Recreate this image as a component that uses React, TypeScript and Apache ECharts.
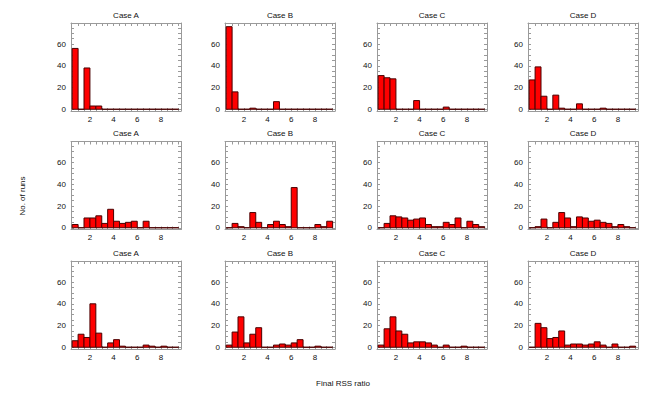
import React, { useEffect, useRef } from "react";
import * as echarts from "echarts";

// ---- data ----
const BIN_STARTS = [0.5, 1.0, 1.5, 2.0, 2.5, 3.0, 3.5, 4.0, 4.5, 5.0, 5.5, 6.0, 6.5, 7.0, 7.5, 8.0, 8.5, 9.0];
const BIN_WIDTH = 0.5;
const CASES = ["Case A", "Case B", "Case C", "Case D"];
const X_TICKS = [2, 4, 6, 8];
const Y_TICKS = [0, 20, 40, 60];
const X_MINOR = [1, 1.5, 2, 2.5, 3, 3.5, 4, 4.5, 5, 5.5, 6, 6.5, 7, 7.5, 8, 8.5, 9, 9.5];
const Y_MINOR = [0, 5, 10, 15, 20, 25, 30, 35, 40, 45, 50, 55, 60, 65, 70, 75];

const ROW1_A = [56, 0, 38, 3, 3, 0, 0, 0, 0, 0, 0, 0, 0, 0, 0, 0, 0, 0];
const ROW1_B = [76, 16, 0, 0, 1, 0, 0, 0, 7, 0, 0, 0, 0, 0, 0, 0, 0, 0];
const ROW1_C = [31, 29, 28, 0, 0, 0, 8, 0, 0, 0, 0, 2, 0, 0, 0, 0, 0, 0];
const ROW1_D = [27, 39, 12, 0, 13, 1, 0, 0, 5, 0, 0, 0, 1, 0, 0, 0, 0, 0];

const ROW2_A = [3, 0, 9, 9, 11, 4, 17, 6, 4, 5, 6, 0, 6, 0, 0, 0, 0, 0];
const ROW2_B = [0, 4, 1, 0, 14, 5, 0, 3, 6, 3, 1, 37, 0, 0, 0, 3, 1, 6];
const ROW2_C = [0, 4, 11, 10, 9, 7, 8, 9, 3, 1, 1, 5, 3, 9, 0, 6, 3, 1];
const ROW2_D = [0, 1, 8, 0, 5, 14, 9, 1, 10, 9, 6, 7, 5, 4, 1, 3, 1, 0];

const ROW3_A = [6, 12, 9, 40, 13, 0, 4, 7, 1, 0, 0, 0, 2, 1, 0, 1, 0, 0];
const ROW3_B = [2, 14, 28, 4, 12, 18, 0, 0, 2, 3, 2, 4, 7, 0, 0, 1, 0, 0];
const ROW3_C = [2, 17, 28, 15, 12, 4, 5, 5, 4, 2, 0, 2, 0, 0, 1, 0, 0, 0];
const ROW3_D = [0, 22, 18, 8, 9, 15, 2, 3, 3, 2, 3, 5, 2, 0, 3, 0, 0, 1];

const PANELS = [
  [ROW1_A, ROW1_B, ROW1_C, ROW1_D],
  [ROW2_A, ROW2_B, ROW2_C, ROW2_D],
  [ROW3_A, ROW3_B, ROW3_C, ROW3_D],
];

const X_LABEL = "Final RSS ratio";
const Y_LABEL = "No. of runs";

// ---- layout ----
const COL_LEFT = [71, 225, 377, 528];
const ROW_TOP = [23, 141.5, 261];
const PW = 110;
const PH = 88;
const X_MIN = 0.4;
const X_MAX = 9.7;
const Y_MIN = -1.6;
const Y_MAX = 79.4;
const FONT = "Liberation Sans, Arial, Helvetica, sans-serif";
const FRAME = "#9a9a9a";

export default function App() {
  const ref = useRef<HTMLDivElement>(null);
  useEffect(() => {
    if (!ref.current) return;
    const chart = echarts.init(ref.current, undefined, { renderer: "svg" });
    const grids: any[] = [];
    const xAxes: any[] = [];
    const yAxes: any[] = [];
    const series: any[] = [];
    const graphics: any[] = [];
    let gi = 0;
    PANELS.forEach((row, r) => {
      row.forEach((vals, c) => {
        const left = COL_LEFT[c];
        const top = ROW_TOP[r];
        grids.push({ left, top, width: PW, height: PH, containLabel: false });
        const xCommon = {
          type: "value",
          gridIndex: gi,
          min: X_MIN,
          max: X_MAX,
          splitLine: { show: false },
          axisLine: { show: true, onZero: false, lineStyle: { color: FRAME, width: 1 } },
          axisTick: { show: true, inside: true, length: 3, customValues: X_MINOR, lineStyle: { color: FRAME } },
        };
        xAxes.push({
          ...xCommon,
          position: "bottom",
          axisLabel: { show: true, customValues: X_TICKS, fontSize: 8, color: "#111", margin: 4, fontFamily: FONT },
        });
        xAxes.push({ ...xCommon, position: "top", axisLabel: { show: false } });
        const yCommon = {
          type: "value",
          gridIndex: gi,
          min: Y_MIN,
          max: Y_MAX,
          splitLine: { show: false },
          axisLine: { show: true, onZero: false, lineStyle: { color: FRAME, width: 1 } },
          axisTick: { show: true, inside: true, length: 3, customValues: Y_MINOR, lineStyle: { color: FRAME } },
        };
        yAxes.push({
          ...yCommon,
          position: "left",
          axisLabel: { show: true, customValues: Y_TICKS, fontSize: 8, color: "#111", margin: 5, fontFamily: FONT },
        });
        yAxes.push({ ...yCommon, position: "right", axisLabel: { show: false } });
        series.push({
          type: "custom",
          xAxisIndex: gi * 2,
          yAxisIndex: gi * 2,
          data: BIN_STARTS.map((s, k) => [s, s + BIN_WIDTH, vals[k]]),
          renderItem: (params: any, api: any) => {
            const x0 = api.value(0);
            const x1 = api.value(1);
            const v = api.value(2);
            const p0 = api.coord([x0, 0]);
            const p1 = api.coord([x1, v]);
            return {
              type: "rect",
              shape: { x: p0[0], y: p1[1], width: p1[0] - p0[0], height: p0[1] - p1[1] },
              style: { fill: "#ff0000", stroke: "#4a0000", lineWidth: 1 },
            };
          },
        });
        graphics.push({
          type: "text",
          x: left + PW / 2,
          y: top - 8,
          style: {
            text: CASES[c],
            fill: "#111",
            font: `8px ${FONT}`,
            textAlign: "center",
            textVerticalAlign: "middle",
          },
        });
        gi++;
      });
    });
    graphics.push({
      type: "text",
      x: 22,
      y: 196,
      rotation: Math.PI / 2,
      style: { text: Y_LABEL, fill: "#111", font: `8px ${FONT}`, textAlign: "center", textVerticalAlign: "middle" },
    });
    graphics.push({
      type: "text",
      x: 343,
      y: 383,
      style: { text: X_LABEL, fill: "#111", font: `8px ${FONT}`, textAlign: "center", textVerticalAlign: "middle" },
    });
    chart.setOption({
      animation: false,
      backgroundColor: "#ffffff",
      grid: grids,
      xAxis: xAxes,
      yAxis: yAxes,
      series,
      graphic: graphics,
    });
    return () => chart.dispose();
  }, []);
  return (
    <div
      ref={ref}
      style={{ position: "fixed", left: 0, top: 0, width: 667, height: 393, background: "#fff" }}
    />
  );
}
